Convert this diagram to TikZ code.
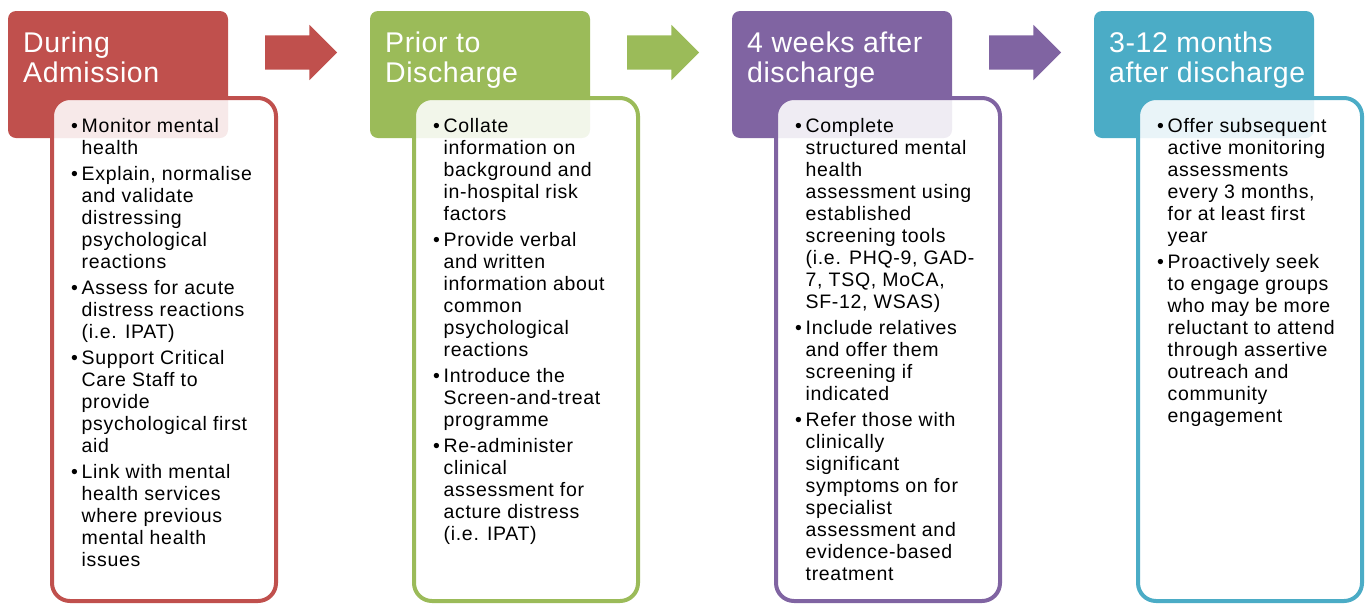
\documentclass[tikz,border=0pt]{standalone}
\usepackage{fontspec}
\setmainfont{Liberation Sans}[LetterSpace=2]
\newfontfamily\bodyfont{Liberation Sans}[LetterSpace=3.5]
\usepackage{tikz}
\usetikzlibrary{shapes.arrows}

\definecolor{admred}{HTML}{C0504D}
\definecolor{disgreen}{HTML}{9BBB59}
\definecolor{wkpurple}{HTML}{8064A2}
\definecolor{mthblue}{HTML}{4BACC6}
\newcommand{\bul}{\makebox[10.5pt][l]{\textbullet}}

\begin{document}
\begin{tikzpicture}[x=1pt, y=1pt,
    head/.style={fill=#1, rounded corners=8pt, minimum width=220pt, minimum height=127pt, inner sep=0pt, outer sep=0pt, anchor=north west},
    panel/.style={draw=#1, line width=4pt, fill=white, fill opacity=0.88, rounded corners=18pt, minimum width=224pt, minimum height=503pt, inner sep=0pt, outer sep=0pt, anchor=north west},
    flow/.style={single arrow, fill=#1, minimum height=72pt, inner xsep=0pt, inner ysep=17pt, single arrow head extend=10.5pt, outer sep=0pt, anchor=west},
    htext/.style={text=white, align=left, inner sep=0pt, anchor=north west, font={\fontsize{28.5}{30}\selectfont}},
    btext/.style={inner sep=0pt, anchor=north west, font={\bodyfont\fontsize{19.5}{22}\selectfont}}]
    \useasboundingbox (0,0) rectangle (1367,-606);

    \node[head=admred] (hd1) at (8,-11) {};
    \node[head=disgreen] (hd2) at (370,-11) {};
    \node[head=wkpurple] (hd3) at (732,-11) {};
    \node[head=mthblue] (hd4) at (1094,-11) {};

    \node[flow=admred] (ar1) at (265,-52.5) {};
    \node[flow=disgreen] (ar2) at (627,-52.5) {};
    \node[flow=wkpurple] (ar3) at (989,-52.5) {};

    \node[panel=admred] (pn1) at (52,-98) {};
    \node[panel=disgreen] (pn2) at (414,-98) {};
    \node[panel=wkpurple] (pn3) at (776,-98) {};
    \node[panel=mthblue] (pn4) at (1138,-98) {};

    \node[htext] (ht1) at ([xshift=15pt,yshift=-20.7pt]hd1.north west) {During\\Admission};
    \node[htext] (ht2) at ([xshift=15pt,yshift=-20.7pt]hd2.north west) {Prior to\\Discharge};
    \node[htext] (ht3) at ([xshift=15pt,yshift=-20.7pt]hd3.north west) {4 weeks after\\discharge};
    \node[htext] (ht4) at ([xshift=15pt,yshift=-20.7pt]hd4.north west) {3-12 months\\after discharge};

    \node[btext] (bt1) at ([xshift=19pt,yshift=-18.6pt]pn1.north west) {\begin{tabular}{@{}l@{}l@{}}
        \bul & Monitor mental\\ & health\\[4pt]
        \bul & Explain, normalise\\ & and validate\\ & distressing\\ & psychological\\ & reactions\\[4pt]
        \bul & Assess for acute\\ & distress reactions\\ & (i.e. IPAT)\\[4pt]
        \bul & Support Critical\\ & Care Staff to\\ & provide\\ & psychological first\\ & aid\\[4pt]
        \bul & Link with mental\\ & health services\\ & where previous\\ & mental health\\ & issues
    \end{tabular}};
    \node[btext] (bt2) at ([xshift=19pt,yshift=-18.6pt]pn2.north west) {\begin{tabular}{@{}l@{}l@{}}
        \bul & Collate\\ & information on\\ & background and\\ & in-hospital risk\\ & factors\\[4pt]
        \bul & Provide verbal\\ & and written\\ & information about\\ & common\\ & psychological\\ & reactions\\[4pt]
        \bul & Introduce the\\ & Screen-and-treat\\ & programme\\[4pt]
        \bul & Re-administer\\ & clinical\\ & assessment for\\ & acture distress\\ & (i.e. IPAT)
    \end{tabular}};
    \node[btext] (bt3) at ([xshift=19pt,yshift=-18.6pt]pn3.north west) {\begin{tabular}{@{}l@{}l@{}}
        \bul & Complete\\ & structured mental\\ & health\\ & assessment using\\ & established\\ & screening tools\\ & (i.e. PHQ-9, GAD-\\ & 7, TSQ, MoCA,\\ & SF-12, WSAS)\\[4pt]
        \bul & Include relatives\\ & and offer them\\ & screening if\\ & indicated\\[4pt]
        \bul & Refer those with\\ & clinically\\ & significant\\ & symptoms on for\\ & specialist\\ & assessment and\\ & evidence-based\\ & treatment
    \end{tabular}};
    \node[btext] (bt4) at ([xshift=19pt,yshift=-18.6pt]pn4.north west) {\begin{tabular}{@{}l@{}l@{}}
        \bul & Offer subsequent\\ & active monitoring\\ & assessments\\ & every 3 months,\\ & for at least first\\ & year\\[4pt]
        \bul & Proactively seek\\ & to engage groups\\ & who may be more\\ & reluctant to attend\\ & through assertive\\ & outreach and\\ & community\\ & engagement
    \end{tabular}};
\end{tikzpicture}
\end{document}
